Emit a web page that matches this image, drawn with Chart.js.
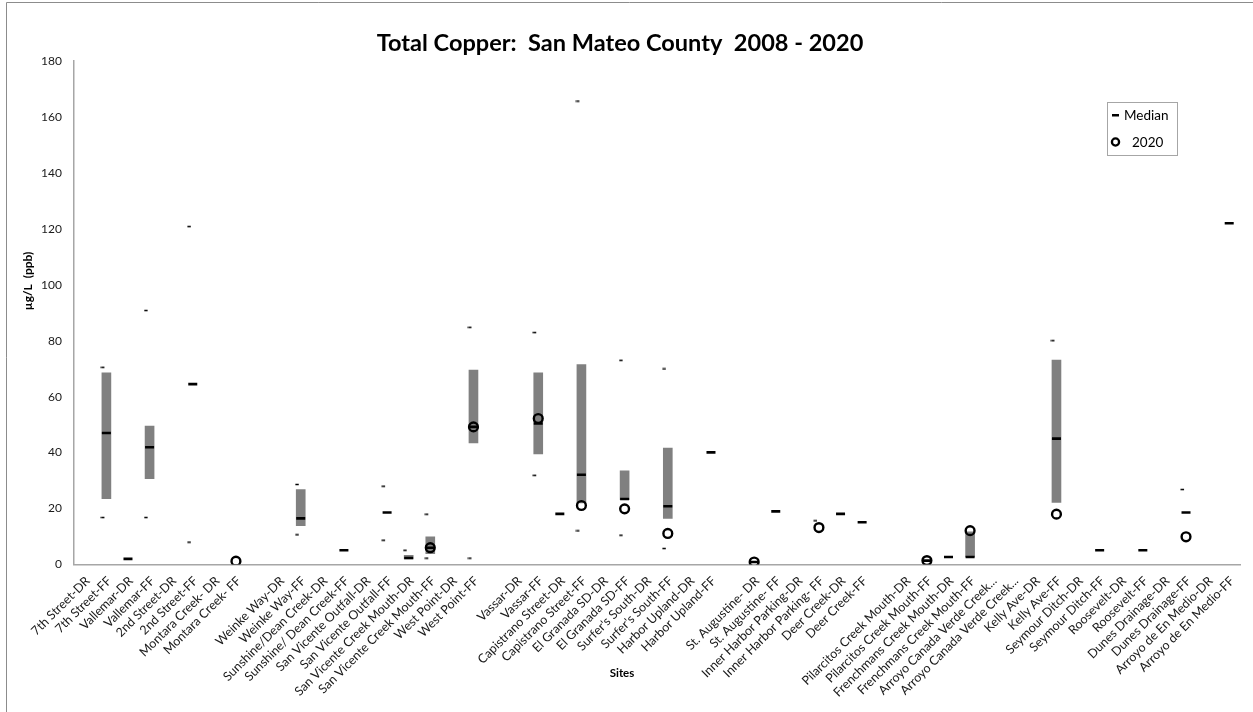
<!DOCTYPE html>
<html>
<head>
<meta charset="utf-8">
<script src="https://cdn.jsdelivr.net/npm/chart.js@4.4.1/dist/chart.umd.min.js"></script>
<style>
html,body{margin:0;padding:0;background:#fff;}
#wrap{position:relative;width:1253px;height:712px;overflow:hidden;}
canvas{display:block;}
</style>
</head>
<body>
<div id="wrap"><canvas id="c" width="1253" height="712"></canvas></div>
<script>
// ---- DATA ----
const titleText = 'Total Copper:  San Mateo County  2008 - 2020';
const yTitle = 'µg/L  (ppb)';
const xTitle = 'Sites';
const yTicks = [0, 20, 40, 60, 80, 100, 120, 140, 160, 180];

const categories = [
  '7th Street-DR', '7th Street-FF', 'Vallemar-DR', 'Vallemar-FF', '2nd Street-DR', '2nd Street-FF',
  'Montara Creek- DR', 'Montara Creek- FF', '',
  'Weinke Way-DR', 'Weinke Way-FF', 'Sunshine/Dean Creek-DR', 'Sunshine/ Dean Creek-FF',
  'San Vicente Outfall-DR', 'San Vicente Outfall-FF', 'San Vicente Creek Mouth-DR', 'San Vicente Creek Mouth-FF',
  'West Point-DR', 'West Point-FF', '',
  'Vassar-DR', 'Vassar-FF', 'Capistrano Street-DR', 'Capistrano Street-FF', 'El Granada SD-DR', 'El Granada SD-FF',
  "Surfer's South-DR", "Surfer's South-FF", 'Harbor Upland-DR', 'Harbor Upland-FF', '',
  'St. Augustine- DR', 'St. Augustine- FF', 'Inner Harbor Parking-DR', 'Inner Harbor Parking- FF',
  'Deer Creek-DR', 'Deer Creek-FF', '',
  'Pilarcitos Creek Mouth-DR', 'Pilarcitos Creek Mouth-FF', 'Frenchmans Creek Mouth-DR', 'Frenchmans Creek Mouth-FF',
  'Arroyo Canada Verde Creek...', 'Arroyo Canada Verde Creek...', 'Kelly Ave-DR', 'Kelly Ave-FF',
  'Seymour Ditch-DR', 'Seymour Ditch-FF', 'Roosevelt-DR', 'Roosevelt-FF', 'Dunes Drainage-DR', 'Dunes Drainage-FF',
  'Arroyo de En Medio-DR', 'Arroyo de En Medio-FF'
];

// 25th percentile (bottom of grey bar)
const boxLow = [
  null, 23.5, null, 30.7, null, null, null, null, null,
  null, 13.9, null, null, null, null, 2.0, 3.9, null, 43.5, null,
  null, 39.5, null, 22.0, null, 23.2, null, 16.5, null, null, null,
  null, null, null, null, null, null, null,
  null, null, null, 2.7, null, null, null, 22.2,
  null, null, null, null, null, null, null, null
];
// 75th percentile (top of grey bar)
const boxHigh = [
  null, 68.5, null, 49.5, null, null, null, null, null,
  null, 26.8, null, null, null, null, 3.3, 9.9, null, 69.5, null,
  null, 68.5, null, 71.5, null, 33.5, null, 41.6, null, null, null,
  null, null, null, null, null, null, null,
  null, null, null, 11.7, null, null, null, 73.1,
  null, null, null, null, null, null, null, null
];
const medianVals = [
  null, 47.0, 2.0, 41.9, null, 64.5, null, null, null,
  null, 16.5, null, 5.1, null, 18.6, 2.3, 6.0, null, 49.2, null,
  null, 50.4, 18.1, 32.1, null, 23.4, null, 20.8, null, 40.1, null,
  0.9, 19.0, null, null, 18.1, 15.1, null,
  null, 1.4, 2.7, 2.7, null, null, null, 45.0,
  null, 5.1, null, 5.1, null, 18.6, null, 122.0
];
const maxVals = [
  null, 70.5, null, 90.8, null, 120.8, null, null, null,
  null, 28.6, null, null, null, 28.0, 5.1, 18.0, null, 84.8, null,
  null, 82.9, null, 165.7, null, 73.0, null, 69.9, null, null, null,
  null, null, null, 15.6, null, null, null,
  null, null, null, null, null, null, null, 80.0,
  null, null, null, null, null, 26.8, null, null
];
const minVals = [
  null, 16.8, null, 16.8, null, 8.0, null, null, null,
  null, 10.6, null, null, null, 8.7, null, 2.3, null, 2.3, null,
  null, 31.9, null, 12.0, null, 10.5, null, 5.7, null, null, null,
  null, null, null, null, null, null, null,
  null, null, null, null, null, null, null, null,
  null, null, null, null, null, null, null, null
];
const vals2020 = [
  null, null, null, null, null, null, null, 1.2, null,
  null, null, null, null, null, null, null, 6.0, null, 49.2, null,
  null, 52.2, null, 21.1, null, 19.9, null, 11.1, null, null, null,
  0.9, null, null, 13.2, null, null, null,
  null, 1.4, null, 12.1, null, null, null, 18.0,
  null, null, null, null, null, 9.9, null, null
];

// ---- STYLE HELPERS ----
const FONT = 'Lato, "Open Sans", sans-serif';
function dashCanvas() {
  const c = document.createElement('canvas');
  c.width = 12; c.height = 3;
  const g = c.getContext('2d');
  g.fillStyle = '#000';
  g.fillRect(0.5, 0.75, 3.5, 1.5);
  return c;
}
const smallDash = dashCanvas();

// fit title size
const mctx = document.createElement('canvas').getContext('2d');
mctx.font = 'bold 20px ' + FONT;
const tw = mctx.measureText(titleText).width;
const titleSize = Math.max(14, Math.min(24, 20 * 487 / tw));

const rangeData = categories.map((c, i) => boxLow[i] == null ? null : [boxLow[i], boxHigh[i]]);

const extras = {
  id: 'extras',
  beforeDraw(chart) {
    const ctx = chart.ctx;
    ctx.save();
    ctx.fillStyle = '#fff';
    ctx.fillRect(0, 0, chart.width, chart.height);
    ctx.strokeStyle = '#8c8c8c';
    ctx.lineWidth = 1;
    ctx.beginPath();
    ctx.moveTo(6.5, 712);
    ctx.lineTo(6.5, 2.5);
    ctx.lineTo(1253, 2.5);
    ctx.stroke();
    ctx.restore();
  },
  afterDraw(chart) {
    const ctx = chart.ctx;
    ctx.save();
    // axis titles
    ctx.fillStyle = '#000';
    ctx.font = 'bold 12px ' + FONT;
    ctx.textAlign = 'center';
    ctx.textBaseline = 'middle';
    ctx.translate(28, 281);
    ctx.rotate(-Math.PI / 2);
    ctx.fillText(yTitle, 0, 0);
    ctx.setTransform(1, 0, 0, 1, 0, 0);
    ctx.font = 'bold 11.5px ' + FONT;
    ctx.fillText(xTitle, 622, 673);
    // legend
    ctx.strokeStyle = '#a6a6a6';
    ctx.lineWidth = 1;
    ctx.strokeRect(1107.5, 102.5, 70, 53);
    ctx.fillStyle = '#000';
    ctx.fillRect(1112, 114, 7, 2.5);
    ctx.beginPath();
    ctx.lineWidth = 2.3;
    ctx.strokeStyle = '#000';
    ctx.arc(1115.5, 142, 3.6, 0, Math.PI * 2);
    ctx.stroke();
    ctx.font = '13.5px ' + FONT;
    ctx.textAlign = 'left';
    ctx.fillStyle = '#000';
    ctx.fillText('Median', 1124, 116);
    ctx.fillText('2020', 1132, 143);
    ctx.restore();
  }
};

new Chart(document.getElementById('c'), {
  type: 'bar',
  data: {
    labels: categories,
    datasets: [
      {
        label: 'Range',
        data: rangeData,
        backgroundColor: '#808080',
        borderWidth: 0,
        barThickness: 9,
        order: 5
      },
      {
        type: 'line', label: 'Max', data: maxVals, showLine: false,
        pointStyle: smallDash, pointRadius: 3, order: 4
      },
      {
        type: 'line', label: 'Min', data: minVals, showLine: false,
        pointStyle: smallDash, pointRadius: 3, order: 4
      },
      {
        type: 'line', label: '2020', data: vals2020, showLine: false,
        pointStyle: 'circle', pointRadius: 4.4, pointBorderWidth: 2.4,
        pointBorderColor: '#000', pointBackgroundColor: 'rgba(0,0,0,0)', order: 1
      },
      {
        type: 'line', label: 'Median', data: medianVals, showLine: false,
        pointStyle: 'line', pointRadius: 4.5, pointBorderWidth: 2.6,
        pointBorderColor: '#000', pointBackgroundColor: '#000', order: 0
      }
    ]
  },
  options: {
    responsive: false,
    animation: false,
    devicePixelRatio: 1,
    layout: { padding: { left: 0, right: 13, top: 0, bottom: 0 } },
    plugins: {
      legend: { display: false },
      tooltip: { enabled: false },
      title: {
        display: true,
        text: titleText,
        color: '#000',
        font: { family: FONT, size: titleSize, weight: 'bold', lineHeight: 1.2 },
        padding: { top: 43 - titleSize * 0.6, bottom: 61 - (43 - titleSize * 0.6) - titleSize * 1.2 }
      }
    },
    scales: {
      x: {
        offset: true,
        grid: { display: false, drawTicks: false },
        border: { display: true, color: '#a6a6a6', width: 1.5 },
        ticks: {
          autoSkip: false, maxRotation: 45, minRotation: 45,
          color: '#1a1a1a', padding: 9, labelOffset: 3,
          font: { family: FONT, size: 12.5 }
        },
        afterFit(s) { s.height = 147.5; }
      },
      y: {
        min: 0, max: 180,
        afterBuildTicks(s) { s.ticks = yTicks.map(v => ({ value: v })); },
        grid: { display: false, drawTicks: false },
        border: { display: true, color: '#a6a6a6', width: 1.5 },
        ticks: { color: '#1a1a1a', padding: 12, font: { family: FONT, size: 12 } },
        afterFit(s) { s.width = 74; }
      }
    }
  },
  plugins: [extras]
});
</script>
</body>
</html>
